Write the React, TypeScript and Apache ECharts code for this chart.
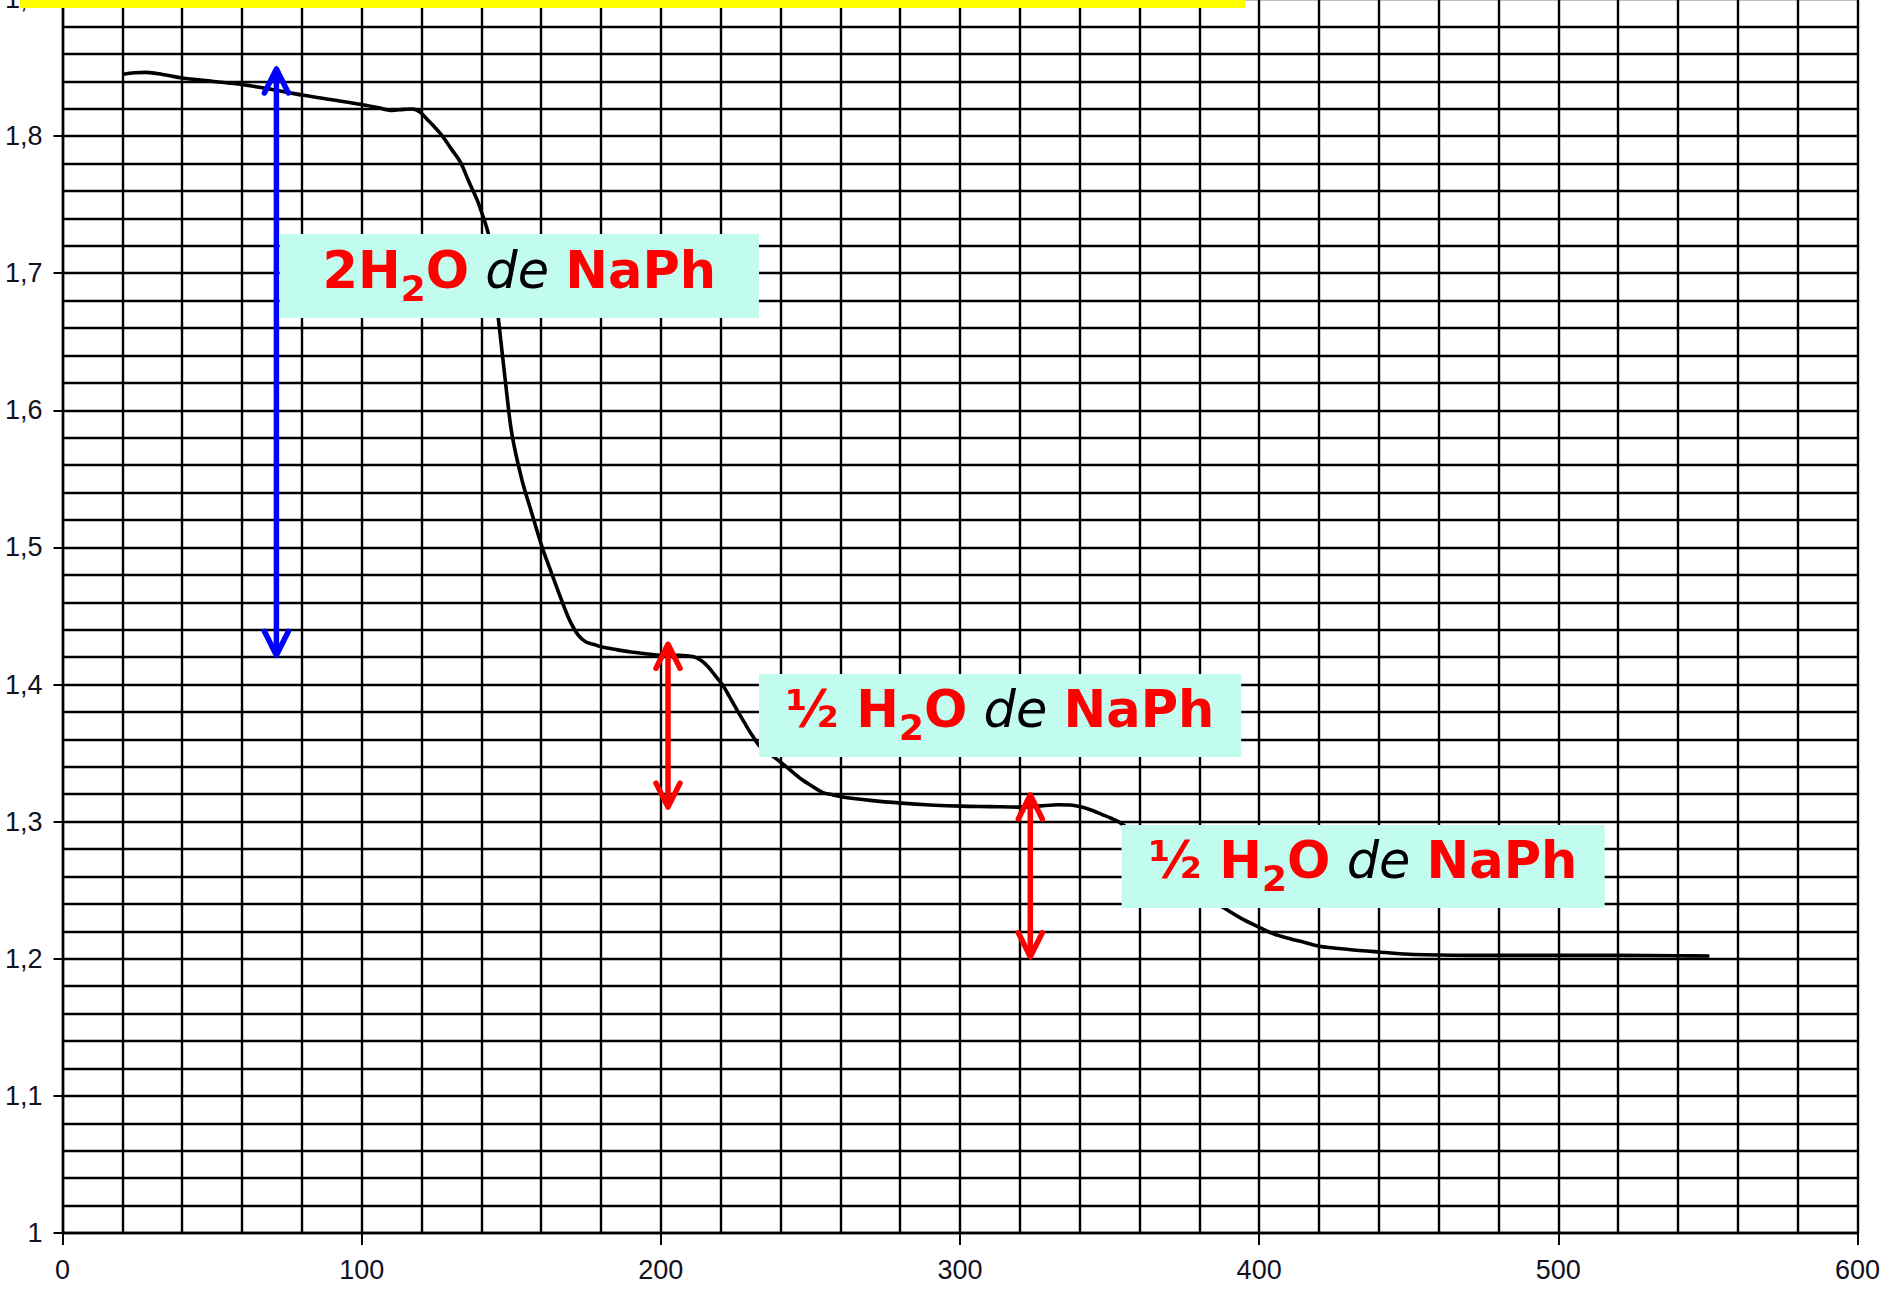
import React, { useEffect, useRef } from "react";
import * as echarts from "echarts";

// ---- data ----
const curveX = [
  20, 24, 28, 34, 40, 50, 60, 70, 80, 90, 100, 106, 110, 114, 117, 119.5, 122, 124, 127, 130, 133,
  136, 138.5, 140, 142.3, 144, 145.8, 148, 150.2, 153.6, 157, 160.2, 163.5, 166.9, 169.5, 172.4,
  175, 178, 180, 185, 190, 195, 200.3, 206.3, 211, 213.5, 215.8, 218, 220.6, 223, 225.4, 228,
  230.7, 233.5, 237.3, 242, 246.9, 250.5, 254, 257.5, 261.2, 270, 280.5, 290, 300.4, 310, 320.9,
  327, 332.8, 337.6, 341, 344.5, 347.5, 350.5, 353.3, 360, 367, 374, 381, 388.3, 394, 400.6, 405,
  409.4, 415, 420, 430, 440, 451.7, 470, 496, 520, 540, 550.5,
];
const curveY = [
  1.845, 1.8462, 1.8465, 1.8448, 1.8424, 1.84, 1.8376, 1.834, 1.83, 1.8265, 1.823, 1.8205, 1.8188,
  1.8195, 1.8198, 1.8175, 1.812, 1.8075, 1.8, 1.7905, 1.781, 1.766, 1.754, 1.745, 1.729, 1.7,
  1.665, 1.622, 1.583, 1.549, 1.524, 1.501, 1.481, 1.461, 1.447, 1.436, 1.431, 1.429, 1.4275,
  1.4255, 1.4237, 1.4225, 1.4214, 1.4214, 1.4202, 1.4175, 1.413, 1.407, 1.3998, 1.391, 1.3817,
  1.372, 1.3624, 1.354, 1.348, 1.34, 1.3311, 1.326, 1.3214, 1.3195, 1.3178, 1.3155, 1.3135,
  1.3122, 1.3113, 1.311, 1.3106, 1.3115, 1.3123, 1.312, 1.3105, 1.308, 1.3052, 1.3025, 1.2995,
  1.2885, 1.275, 1.26, 1.2475, 1.237, 1.2295, 1.2224, 1.218, 1.2152, 1.212, 1.2092, 1.2068,
  1.205, 1.2031, 1.2025, 1.2025, 1.2025, 1.2022, 1.202,
];

// double-headed arrows: x, top value, bottom value
const arrowX = [71.5, 202.4, 323.5];
const arrowTop = [1.849, 1.4294, 1.3195];
const arrowBottom = [1.4213, 1.3106, 1.2015];

// annotation boxes (data coordinates)
const boxX0 = [72.6, 232.8, 354.0];
const boxX1 = [232.8, 394.0, 515.5];
const boxTop = [1.7286, 1.4077, 1.2976];
const boxBottom = [1.6673, 1.3472, 1.237];
const boxLead = ["2H", "½ H", "½ H"];

const xMin = 0;
const xMax = 600;
const yMin = 1;
const yMax = 1.9;

// ---- styles ----
const arrowColors = ["#0000ff", "#ff0000", "#ff0000"];
const labelFont = "'Liberation Sans', Arial, sans-serif";
const boxFont = "'DejaVu Sans', 'Noto Sans', sans-serif";
const SHIFT = 20; // the chart canvas starts 20px above the page so that the 1,9 row is cut off

export default function App() {
  const ref = useRef<HTMLDivElement | null>(null);

  useEffect(() => {
    if (!ref.current) return;
    const chart = echarts.init(ref.current, null, { renderer: "svg" });

    const gridLine = { show: true, lineStyle: { color: "#000", width: 2.4 } };

    const option: any = {
      animation: false,
      backgroundColor: "#ffffff",
      grid: { left: 62.5, right: 23, top: SHIFT - 1, bottom: 64, containLabel: false },
      xAxis: {
        type: "value",
        min: xMin,
        max: xMax,
        interval: 100,
        axisLine: { show: true, onZero: false, lineStyle: { color: "#000", width: 2.4 } },
        axisTick: { show: true, length: 12, lineStyle: { color: "#000", width: 2 } },
        minorTick: { show: false, splitNumber: 5 },
        splitLine: gridLine,
        minorSplitLine: gridLine,
        axisLabel: {
          margin: 23,
          fontFamily: labelFont,
          fontSize: 27,
          color: "#111122",
        },
      },
      yAxis: {
        type: "value",
        min: yMin,
        max: yMax,
        interval: 0.1,
        axisLine: { show: true, onZero: false, lineStyle: { color: "#000", width: 2.4 } },
        axisTick: { show: true, length: 9, lineStyle: { color: "#000", width: 2 } },
        minorTick: { show: false, splitNumber: 5 },
        splitLine: gridLine,
        minorSplitLine: gridLine,
        axisLabel: {
          margin: 20,
          fontFamily: labelFont,
          fontSize: 27,
          color: "#111122",
          formatter: (v: number) => {
            const r = Math.round(v * 10) / 10;
            return r === Math.round(r) ? String(r) : r.toFixed(1).replace(".", ",");
          },
        },
      },
      series: [
        {
          type: "line",
          data: curveX.map((x, i) => [x, curveY[i]]),
          showSymbol: false,
          symbol: "none",
          smooth: 0.3,
          lineStyle: { color: "#000", width: 3.6 },
          z: 3,
        },
        {
          type: "custom",
          coordinateSystem: "cartesian2d",
          data: arrowX.map((x, i) => [x, arrowTop[i], arrowBottom[i], i]),
          encode: { x: 0, y: [1, 2] },
          z: 5,
          renderItem: (params: any, api: any) => {
            const x = api.value(0);
            const t = api.coord([x, api.value(1)]);
            const b = api.coord([x, api.value(2)]);
            const color = arrowColors[api.value(3)];
            const st = { stroke: color, lineWidth: 5.5, fill: "none", lineCap: "round", lineJoin: "round" };
            return {
              type: "group",
              children: [
                { type: "line", shape: { x1: t[0], y1: t[1] + 2, x2: b[0], y2: b[1] - 2 }, style: st },
                {
                  type: "polyline",
                  shape: { points: [[t[0] - 12, t[1] + 24], [t[0], t[1]], [t[0] + 12, t[1] + 24]] },
                  style: st,
                },
                {
                  type: "polyline",
                  shape: { points: [[b[0] - 12, b[1] - 24], [b[0], b[1]], [b[0] + 12, b[1] - 24]] },
                  style: st,
                },
              ],
            };
          },
        },
        {
          type: "custom",
          coordinateSystem: "cartesian2d",
          data: boxX0.map((x0, i) => [x0, boxTop[i], boxX1[i], boxBottom[i], i]),
          encode: { x: [0, 2], y: [1, 3] },
          z: 6,
          renderItem: (params: any, api: any) => {
            const p0 = api.coord([api.value(0), api.value(1)]);
            const p1 = api.coord([api.value(2), api.value(3)]);
            const idx = api.value(4);
            const cx = (p0[0] + p1[0]) / 2;
            const cy = (p0[1] + p1[1]) / 2 - 6;
            const red = { fill: "#ff0000", fontFamily: boxFont, fontWeight: "bold", fontSize: 51, lineHeight: 72, verticalAlign: "middle" };
            return {
              type: "group",
              children: [
                {
                  type: "rect",
                  shape: { x: p0[0], y: p0[1], width: p1[0] - p0[0], height: p1[1] - p0[1] },
                  style: { fill: "#c1fcee" },
                },
                {
                  type: "text",
                  style: {
                    x: cx,
                    y: cy,
                    align: "center",
                    verticalAlign: "middle",
                    text: `{r|${boxLead[idx]}}{s|2}{r|O}{k| de }{r|NaPh}`,
                    rich: {
                      r: red,
                      s: { fill: "#ff0000", fontFamily: boxFont, fontWeight: "bold", fontSize: 36, lineHeight: 36, verticalAlign: "bottom" },
                      k: { fill: "#000000", fontFamily: boxFont, fontStyle: "italic", fontWeight: "normal", fontSize: 51, lineHeight: 72, verticalAlign: "middle" },
                    },
                  },
                },
              ],
            };
          },
        },
      ],
      graphic: [
        {
          type: "rect",
          left: 20,
          top: SHIFT,
          shape: { width: 1225, height: 8 },
          style: { fill: "#ffff00" },
          z: 100,
        },
      ],
    };

    chart.setOption(option);
    return () => chart.dispose();
  }, []);

  return (
    <div style={{ position: "absolute", left: 0, top: 0, width: 1883, height: 1297, overflow: "hidden", background: "#fff" }}>
      <div
        ref={ref}
        style={{ position: "absolute", left: 0, top: -SHIFT, width: 1883, height: 1297 + SHIFT }}
      />
    </div>
  );
}
